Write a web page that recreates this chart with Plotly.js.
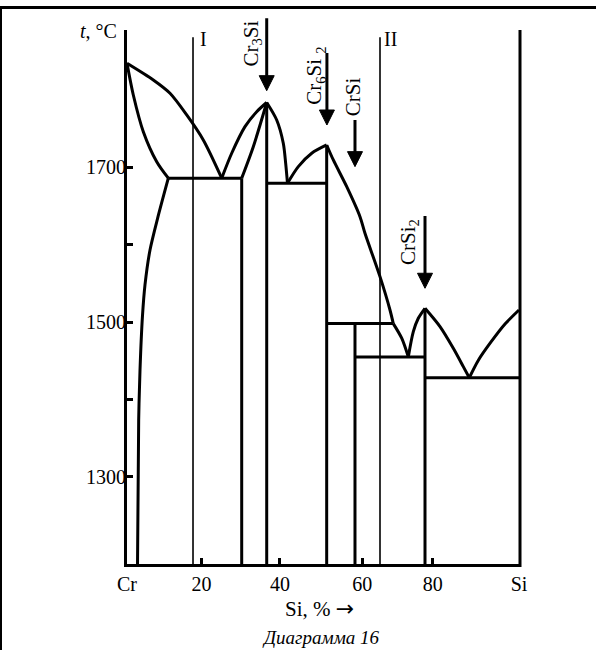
<!DOCTYPE html>
<html><head><meta charset="utf-8">
<script src="https://cdn.plot.ly/plotly-3.0.1.min.js"></script>
<style>html,body{margin:0;padding:0;background:#fff}#chart{width:596px;height:650px}</style>
</head><body><div id="chart"></div>
<script>
// ---------- data (Si, % ; t, °C) ----------
const liqCrX = [0, 6.71, 10.97, 15.23, 19.46, 24.16];
const liqCrT = [1834.5, 1812.9, 1795.7, 1767.7, 1735.4, 1686];
const solCrX = [0, 1.61, 4.16, 7.58, 10.54];
const solCrT = [1834.5, 1793.5, 1746.1, 1707.3, 1686];
const solvusX = [10.54, 7.91, 5.87, 4.59, 3.95, 3.32, 2.98, 2.68];
const solvusT = [1686, 1636.2, 1593.2, 1548.0, 1507.9, 1438.1, 1373.5, 1187.3];
const liqCr3SiLX = [24.16, 26.71, 30.10, 33.09, 35.64];
const liqCr3SiLT = [1686, 1718.2, 1752.6, 1771.9, 1783.8];
const solCr3SiX = [29.26, 32.22, 35.64];
const solCr3SiT = [1686, 1726.7, 1783.8];
const liqCr3SiRX = [35.64, 38.19, 39.87, 40.48, 40.94];
const liqCr3SiRT = [1783.8, 1761.2, 1731.1, 1705.2, 1679.4];
const liqCr5Si3LX = [40.94, 43.70, 47.12, 50.94];
const liqCr5Si3LT = [1679.4, 1700.9, 1718.2, 1728.9];
const liqCr5Si3RX = [50.94, 52.63, 56.05, 59.44, 60.71, 64.54, 67.09, 67.93];
const liqCr5Si3RT = [1728.9, 1709.5, 1675.0, 1636.2, 1614.8, 1558.7, 1515.6, 1498];
const liqCrSiX = [67.93, 70.08, 71.76];
const liqCrSiT = [1498, 1479.1, 1455];
const liqCrSi2LX = [71.76, 73.04, 74.31, 76.02];
const liqCrSi2LT = [1455, 1487.6, 1504.9, 1517.8];
const liqCrSi2RX = [76.02, 79.85, 83.24, 85.79, 87.32];
const liqCrSi2RT = [1517.8, 1494.1, 1466.1, 1442.4, 1428];
const liqSiX = [87.32, 89.67, 92.86, 96.43, 100];
const liqSiT = [1428, 1451.0, 1474.3, 1497.5, 1515.6];

// isotherms (horizontal lines)
const isoT  = [1686, 1679.4, 1498, 1455, 1428];
const isoX0 = [10.54, 35.64, 50.94, 58.16, 76.02];
const isoX1 = [29.26, 50.94, 67.93, 76.02, 100];

// phase boundaries (vertical lines, down to the bottom of the chart)
const vertX    = [29.26, 35.64, 50.94, 58.16, 76.02];
const vertTopT = [1686, 1783.8, 1728.9, 1498, 1517.8];

// alloy lines I and II
const alloyNames = ['I', 'II'];
const alloyX = [16.84, 64.54];
const alloyTopT = 1868;

// compounds
const compNames = ['Cr<sub>3</sub>Si', 'Cr<sub>6</sub>Si <sub>2</sub>', 'CrSi', 'CrSi<sub>2</sub>'];
const compX = [35.64, 51.0, 58.16, 76.02];
const arrowTipT = [1799.1, 1754.7, 1700.9, 1543.7];
const arrowTailT = [1892.7, 1847.8, 1761.2, 1637.1];

// axes
const xTickVals = [0, 19, 39, 60, 78, 100];
const xTickText = ['Cr', '20', '40', '60', '80', 'Si'];
const yTickVals = [1300, 1500, 1700];
const yTickText = ['1300', '1500', '1700'];
const yMinorTickVals = [1400, 1600];
const yMin = 1187.3, yAxisTop = 1877.5, yMax = 1895.6;

// ---------- layout geometry ----------
const W = 596, H = 650;
const M = {l: 127, r: 77, t: 16, b: 86};
const plotW = W - M.l - M.r, plotH = H - M.t - M.b;
const pxPerX = plotW / 100, pxPerT = plotH / (yMax - yMin);
const px2paperX = px => (px - M.l) / plotW;
const py2paperY = py => (H - M.b - py) / plotH;

const FONT = 'Liberation Serif, Times New Roman, serif';
const BLK = '#000';
const traces = [];
function line(x, y, w, smooth) {
  traces.push({type: 'scatter', mode: 'lines', x: x, y: y, hoverinfo: 'skip',
    line: {color: BLK, width: w, shape: smooth ? 'spline' : 'linear', smoothing: 0.8}});
}
[[liqCrX, liqCrT], [solCrX, solCrT], [solvusX, solvusT], [liqCr3SiLX, liqCr3SiLT],
 [solCr3SiX, solCr3SiT], [liqCr3SiRX, liqCr3SiRT], [liqCr5Si3LX, liqCr5Si3LT],
 [liqCr5Si3RX, liqCr5Si3RT], [liqCrSiX, liqCrSiT], [liqCrSi2LX, liqCrSi2LT],
 [liqCrSi2RX, liqCrSi2RT], [liqSiX, liqSiT]].forEach(c => line(c[0], c[1], 3, true));
isoT.forEach((t, i) => line([isoX0[i], isoX1[i]], [t, t], 3, false));
vertX.forEach((x, i) => line([x, x], [vertTopT[i], yMin], 3, false));
alloyX.forEach(x => line([x, x], [alloyTopT, yMin], 1.6, false));

// arrows (shaft + filled head)
const headHalfW = 7.5 / pxPerX, headH = 15 / pxPerT;
compX.forEach((x, i) => {
  const tip = arrowTipT[i];
  line([x, x], [arrowTailT[i], tip + headH * 0.6], 3, false);
  traces.push({type: 'scatter', mode: 'lines', fill: 'toself', fillcolor: BLK, hoverinfo: 'skip',
    line: {color: BLK, width: 1},
    x: [x - headHalfW, x + headHalfW, x, x - headHalfW],
    y: [tip + headH, tip + headH, tip, tip + headH]});
});

const annotations = [];
const txt = (px, py, text, opts) => annotations.push(Object.assign({xref: 'paper', yref: 'paper',
  x: px2paperX(px), y: py2paperY(py), text: text, showarrow: false, xanchor: 'center', yanchor: 'middle',
  font: {family: FONT, size: 20, color: BLK}}, opts || {}));
// compound labels (rotated)
const compLabelPx = [[251.5, 44], [315, 75.8], [352.5, 96.7], [408.5, 242.5]];
compNames.forEach((n, i) => txt(compLabelPx[i][0], compLabelPx[i][1], n,
  {textangle: -90, font: {family: FONT, size: 21, color: BLK}}));
// alloy labels
const alloyLabelPx = [[203.5, 38.5], [390.5, 38.5]];
alloyNames.forEach((n, i) => txt(alloyLabelPx[i][0], alloyLabelPx[i][1], n));
// axis titles and caption
txt(119, 31, '<i>t</i>, °C', {xanchor: 'right'});
txt(319, 608, 'Si, % <span style="font-family:DejaVu Sans;font-size:22px">→</span>', {font: {family: FONT, size: 21, color: BLK}});
txt(321, 637, '<i>Диаграмма 16</i>', {font: {family: FONT, size: 19, color: BLK}});

const shapes = [
  // page frame
  {type: 'line', xref: 'paper', yref: 'paper', x0: px2paperX(0), x1: px2paperX(W), y0: py2paperY(7.5), y1: py2paperY(7.5), line: {color: BLK, width: 3}},
  {type: 'line', xref: 'paper', yref: 'paper', x0: px2paperX(1), x1: px2paperX(1), y0: py2paperY(7.5), y1: py2paperY(H), line: {color: BLK, width: 2}},
  // left and right axis lines of the diagram box
  {type: 'line', xref: 'paper', yref: 'paper', x0: px2paperX(125.5), x1: px2paperX(125.5), y0: py2paperY(30), y1: py2paperY(567), line: {color: BLK, width: 3}},
  {type: 'line', xref: 'paper', yref: 'paper', x0: px2paperX(520), x1: px2paperX(520), y0: py2paperY(30), y1: py2paperY(567), line: {color: BLK, width: 3}}
];

const axisCommon = {showgrid: false, zeroline: false, linecolor: BLK,
  ticks: 'inside', ticklen: 6, tickwidth: 3, tickcolor: BLK, fixedrange: true,
  tickfont: {family: FONT, size: 20, color: BLK}};
const layout = {
  width: W, height: H, margin: M, paper_bgcolor: '#fff', plot_bgcolor: '#fff', showlegend: false,
  font: {family: FONT, size: 20, color: BLK},
  xaxis: Object.assign({}, axisCommon, {range: [0, 100], tickmode: 'array', tickvals: xTickVals, ticktext: xTickText,
    showline: true, linewidth: 3}),
  yaxis: Object.assign({}, axisCommon, {range: [yMin, yMax], tickmode: 'array', tickvals: yTickVals, ticktext: yTickText,
    showline: false, minor: {tickmode: 'array', tickvals: yMinorTickVals, ticks: 'inside', ticklen: 6, tickwidth: 3, tickcolor: BLK, showgrid: false}}),
  annotations: annotations, shapes: shapes
};
Plotly.newPlot('chart', traces, layout, {staticPlot: true, displayModeBar: false});
</script></body></html>
